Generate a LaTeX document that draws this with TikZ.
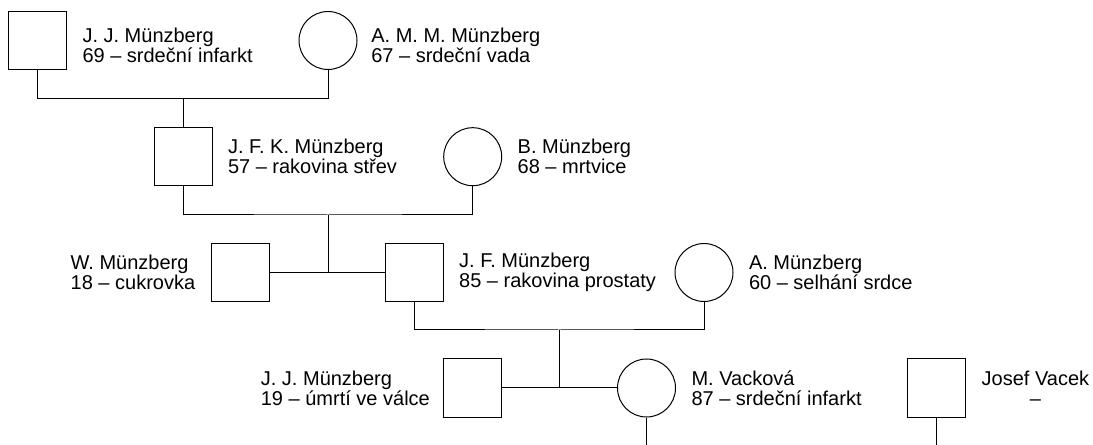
\documentclass[tikz,border=0pt]{standalone}
\usepackage{fontspec}
\setmainfont{Liberation Sans}
\usetikzlibrary{positioning}

\begin{document}
\begin{tikzpicture}[x=0.75pt,y=-0.75pt,line width=0.75pt,
  male/.style={draw,rectangle,minimum size=43.5pt,inner sep=0pt},
  female/.style={draw,circle,minimum size=43.5pt,inner sep=0pt},
  info/.style={inner sep=0pt,align=left,font=\fontsize{15}{15}\selectfont}]
\useasboundingbox (0,0) rectangle (1093,445);
\node[male] (A) at (37.5,40.5) {};
\node[female] (B) at (328,40.5) {};
\node[male] (C) at (183,156.7) {};
\node[female] (D) at (472.7,156.7) {};
\node[male] (E) at (240.2,272.5) {};
\node[male] (F) at (414.2,272.5) {};
\node[female] (G) at (704,272.5) {};
\node[male] (H) at (472.5,388) {};
\node[female] (I) at (646.5,388) {};
\node[male] (J) at (936.7,388) {};
\node[info,right=11.25pt of A,yshift=-4pt] (A') {J. J. Münzberg\\69 – srdeční infarkt};
\node[info,right=10pt of B,yshift=-4pt] (B') {A. M. M. Münzberg\\67 – srdeční vada};
\node[info,right=11.25pt of C] (C') {J. F. K. Münzberg\\57 – rakovina střev};
\node[info,right=11.25pt of D] (D') {B. Münzberg\\68 – mrtvice};
\node[info,left=11.25pt of E] (E') {W. Münzberg\\18 – cukrovka};
\node[info,right=11.25pt of F] (F') {J. F. Münzberg\\85 – rakovina prostaty};
\node[info,right=11.25pt of G] (G') {A. Münzberg\\60 – selhání srdce};
\node[info,left=9.5pt of H] (H') {J. J. Münzberg\\19 – úmrtí ve válce};
\node[info,right=11.25pt of I] (I') {M. Vacková\\87 – srdeční infarkt};
\node[info,align=center,right=11.25pt of J] (J') {Josef Vacek\\–};
\coordinate (AB) at (183,98.5);
\coordinate (CD) at (328,215);
\coordinate (EF) at (328,272.5);
\coordinate (FG) at (559.3,330);
\coordinate (HI) at (559.3,388);
\coordinate (I0) at (646.5,445);
\coordinate (J0) at (936.7,445);
\draw (A.south) |- (AB) -| (B.south);
\draw (AB) -- (C.north);
\draw (C.south) |- (CD) -| (D.south);
\draw (CD) -- (EF);
\draw (E.east) -- (F.west);
\draw (F.south) |- (FG) -| (G.south);
\draw (FG) -- (HI);
\draw (H.east) -- (I.west);
\draw (I.south) -- (I0);
\draw (J.south) -- (J0);
\end{tikzpicture}
\end{document}
